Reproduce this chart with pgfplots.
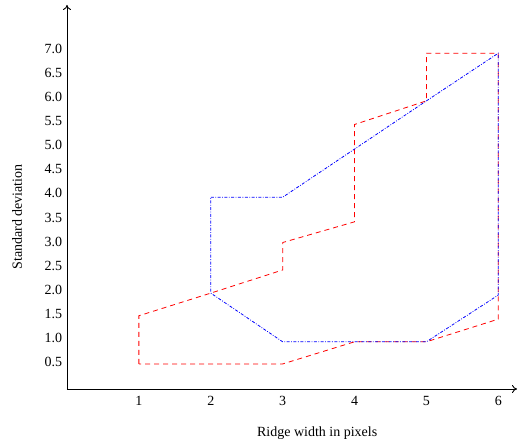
\documentclass[border=0pt]{standalone}
\usepackage{fontspec}
\setmainfont{Liberation Serif}
\usepackage{pgfplots}
\pgfplotsset{compat=1.18}
\usetikzlibrary{arrows.meta}
\begin{document}
\fontsize{14}{16}\selectfont
\begin{tikzpicture}
\begin{axis}[
  scale only axis, width=450pt, height=384pt,
  xmin=0, xmax=6.26, ymin=-0.06, ymax=7.91,
  axis lines=left,
  axis line style={line width=0.9pt, -{To[length=5pt,width=8pt]}},
  major tick length=0pt,
  xtick={1,2,3,4,5,6},
  ytick={0.5,1,1.5,2,2.5,3,3.5,4,4.5,5,5.5,6,6.5,7},
  /pgf/number format/assume math mode=true,
  yticklabel style={/pgf/number format/.cd, fixed, fixed zerofill, precision=1},
  xticklabel style={yshift=-2pt},
  ticklabel style={font=\fontsize{14}{16}\selectfont},
  xlabel={Ridge width in pixels},
  ylabel={Standard deviation},
  xlabel style={at={(axis description cs:0.556,-0.1146)}, anchor=center, font=\fontsize{14}{16}\selectfont},
  ylabel style={at={(axis description cs:-0.111,0.448)}, anchor=center, rotate=0, font=\fontsize{14}{16}\selectfont},
]
\addplot[red, line width=0.8pt, dash pattern=on 5pt off 4pt] coordinates {
  (1,0.46) (1,1.46) (2,1.93) (3,2.41) (3,2.98) (4,3.41) (4,5.43) (5,5.92)
  (5,6.91) (6,6.91) (6,1.39) (5,0.92) (4,0.92) (3,0.46) (1,0.46)
};
\addplot[blue, line width=0.8pt, dash pattern=on 3pt off 1.5pt on 0.8pt off 1.5pt] coordinates {
  (2,3.92) (3,3.92) (5,5.92) (6,6.91) (6,1.89) (5,0.92) (3,0.92) (2,1.93) (2,3.92)
};
\end{axis}
\pgfresetboundingbox
\path[use as bounding box] (-67pt,-54pt) rectangle (451pt,389pt);
\end{tikzpicture}
\end{document}
